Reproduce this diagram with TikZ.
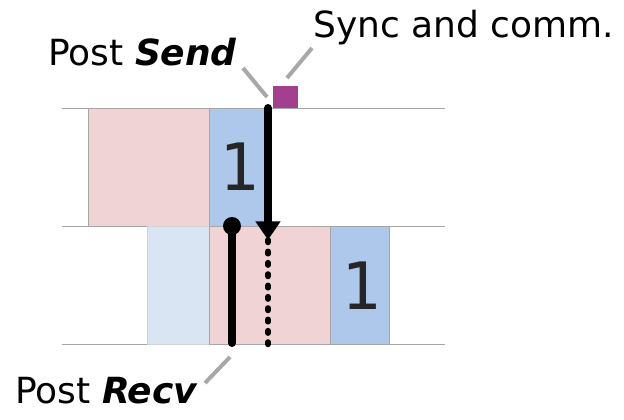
\documentclass[tikz,border=0pt]{standalone}
\usepackage{fontspec}
\setmainfont{DejaVu Sans}
\newfontfamily\digitfont{DejaVu Sans Mono}
\usetikzlibrary{arrows.meta}

\definecolor{comppink}{HTML}{F0D3D4}
\definecolor{commblue}{HTML}{ADC8EA}
\definecolor{idleblue}{HTML}{DAE5F4}
\definecolor{syncpurple}{HTML}{A23F8F}
\definecolor{leadergray}{HTML}{A8A8A8}

\tikzset{
  lane/.style={draw=gray!70, line width=0.7pt},
  cell/.style={draw=gray!70, line width=0.6pt},
  digit/.style={font=\fontsize{49}{50}\selectfont, text=black!85},
  caption/.style={font=\fontsize{27}{32}\selectfont, anchor=base west, inner sep=0pt},
  leader/.style={draw=leadergray, line width=3pt},
  msg/.style={line width=6pt, line cap=round},
}

\begin{document}
\begin{tikzpicture}[x=0.75pt, y=-0.75pt]
\useasboundingbox (0,0) rectangle (624,419);

% process lanes
\draw[lane] (62,108) -- (445,108);
\draw[lane] (62,226) -- (445,226);
\draw[lane] (62,344) -- (445,344);

% sender: compute, then send of block 1
\draw[cell, fill=comppink] (88,108) rectangle (209,226);
\draw[cell, fill=commblue] (209,108) rectangle (264,226);
\node[digit] (sendblk) at (239,167) {\digitfont 1};

% receiver: idle, compute, then recv of block 1
\draw[cell, draw=gray!35, fill=idleblue] (147,226) rectangle (209,344);
\draw[cell, fill=comppink] (209,226) rectangle (330,344);
\draw[cell, fill=commblue] (330,226) rectangle (389,344);
\node[digit] (recvblk) at (361,286) {\digitfont 1};

% synchronisation marker
\fill[syncpurple] (273,86) rectangle (298,108);

% message path
\coordinate (sendstart) at (268,108);
\coordinate (arrive) at (268,240);
\coordinate (wait) at (268,351);
\draw[msg, -{Triangle[width=18pt, length=14pt]}] (sendstart) -- (arrive);
\draw[line width=4.2pt, line cap=round, dash pattern=on 1.8pt off 6.7pt] (arrive) -- (wait);

% posted receive
\coordinate (recvstart) at (232,226);
\coordinate (recvend) at (232,343);
\draw[msg] (recvstart) -- (recvend);
\fill (recvstart) circle (6.75pt);

% labels
\node[caption] (postsend) at (48,65) {Post \textbf{\textit{Send}}};
\node[caption] (sync) at (313,37) {Sync and comm.};
\node[caption] (postrecv) at (15,403) {Post \textbf{\textit{Recv}}};

\coordinate (sendtip) at (267,97);
\coordinate (synctip) at (287,78);
\coordinate (recvtip) at (230,357);
\draw[leader] (243,68) -- (sendtip);
\draw[leader] (312,48) -- (synctip);
\draw[leader] (205,383) -- (recvtip);
\end{tikzpicture}
\end{document}
